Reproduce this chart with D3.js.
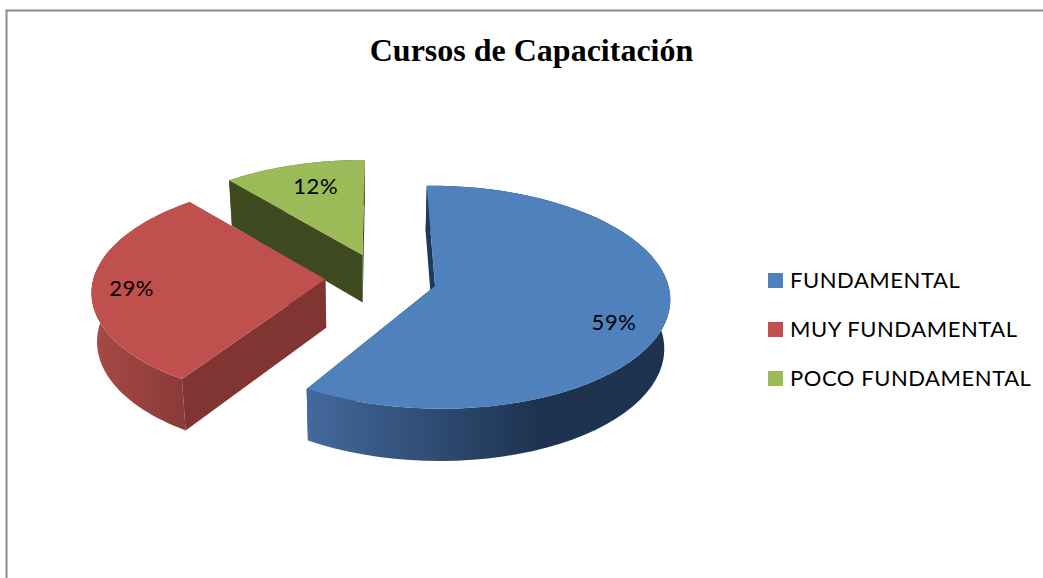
<!DOCTYPE html>
<html><head><meta charset="utf-8">
<script src="https://cdn.jsdelivr.net/npm/d3@7"></script>
<style>html,body{margin:0;padding:0;background:#fff}svg{display:block}</style>
</head><body><div id="c"></div>
<script>
const categories = ["FUNDAMENTAL","MUY FUNDAMENTAL","POCO FUNDAMENTAL"];
const percents = [59,29,12];
const chartTitle = "Cursos de Capacitación";
const topColors = ["#4f81bd","#c0504d","#9bbb59"];
const cutColors = ["#1c3a5e","#803533","#3f4a21"];
const wallStart = ["#44699c","#a84a48","#5a6d30"];
const wallEnd = ["#1d3350","#8a3a38","#4a5a28"];
const wallSpan = [[307,540],[92,184],[227,363]];
const labelRadius = [0.8,0.83,0.74];
const labelTurn = [8,-2,2];
const edgeTurnStart = [0,1.6,4.4];
const edgeTurnEnd = [0,3.7,1];
const explodeTurn = [0,3,0];
const explosion = 0.24, persp = 0.1, rotationDeg = -0.9;

const W=1043,H=578;
const svg=d3.select("#c").append("svg").attr("width",W).attr("height",H);
const defs=svg.append("defs");
const rad=Math.PI/180;

svg.append("path").attr("d",`M6.5,${H}V10.5H${W}`).attr("fill","none").attr("stroke","#8c8c8c").attr("stroke-width",2);

svg.append("text").text(chartTitle).attr("x",531.5).attr("y",61).attr("text-anchor","middle")
  .attr("font-family","Liberation Serif").attr("font-weight","bold").attr("font-size",32).attr("fill","#000");

const sx=d3.scaleLinear().domain([0,1]).range([381,613]);
const sy=d3.scaleLinear().domain([0,1]).range([279,388]);
const rot=rotationDeg*rad;
const arcs=d3.pie().sort(null).startAngle(rot).endAngle(rot+2*Math.PI)(percents);

function proj(u,v){const w=1-persp*v;return [sx(u/w),sy(v/w)];}
function lower([x,y]){return [370+(x-370)*0.98, y+40+0.03*y];}
const line=d3.line();
function slicePts(d,i){
  const a0=d.startAngle+edgeTurnStart[i]*rad,a1=d.endAngle+edgeTurnEnd[i]*rad;
  const mid=(a0+a1)/2,em=mid+explodeTurn[i]*rad;
  const ox=explosion*Math.sin(em), oy=-explosion*Math.cos(em);
  const n=60;
  const rim=d3.range(n+1).map(k=>{const a=a0+(a1-a0)*k/n;
    return proj(ox+Math.sin(a),oy-Math.cos(a));});
  return {ox,oy,mid,rim,apex:proj(ox,oy)};
}
const order=[2,1,0];
order.forEach(i=>{
  const d=arcs[i],s=slicePts(d,i);
  const g=svg.append("g");
  const id="wall"+i;
  const lg=defs.append("linearGradient").attr("id",id).attr("gradientUnits","userSpaceOnUse")
    .attr("x1",wallSpan[i][0]).attr("x2",wallSpan[i][1]).attr("y1",0).attr("y2",0);
  lg.append("stop").attr("offset",0).attr("stop-color",wallStart[i]);
  lg.append("stop").attr("offset",1).attr("stop-color",wallEnd[i]);
  const first=s.rim[0],last=s.rim[s.rim.length-1];
  const cut=p=>line([s.apex,p,lower(p),lower(s.apex)])+"Z";
  g.append("path").attr("d",cut(last)).attr("fill",cutColors[i]);
  g.append("path").attr("d",line(s.rim.concat(s.rim.map(lower).reverse()))+"Z").attr("fill",`url(#${id})`);
  g.append("path").attr("d",cut(first)).attr("fill",cutColors[i]);
  g.append("path").attr("d",line([s.apex].concat(s.rim))+"Z").attr("fill",topColors[i]);
});
arcs.forEach((d,i)=>{
  const s=slicePts(d,i),r=labelRadius[i],a=s.mid+labelTurn[i]*rad;
  const p=proj(s.ox+r*Math.sin(a),s.oy-r*Math.cos(a));
  svg.append("text").text(d.data+"%").attr("x",p[0]).attr("y",p[1]).attr("dy","0.35em").attr("text-anchor","middle")
    .attr("font-family","Lato").attr("font-size",22).attr("letter-spacing",0.55).attr("fill","#000");
});
const ly=d3.scalePoint().domain(categories).range([280,378]);
categories.forEach((c,i)=>{
  svg.append("rect").attr("x",768).attr("y",ly(c)-7).attr("width",15).attr("height",15).attr("fill",topColors[i]);
  svg.append("text").text(c).attr("x",790).attr("y",ly(c)).attr("dy","0.35em")
    .attr("font-family","Lato").attr("font-size",22).attr("letter-spacing",0.55).attr("fill","#000");
});
</script></body></html>
